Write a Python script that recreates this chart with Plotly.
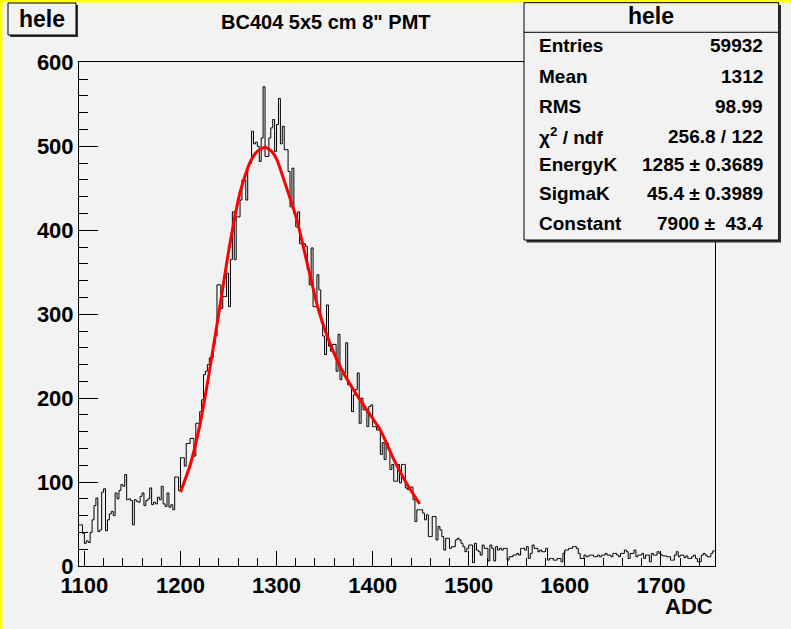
import numpy as np
import plotly.graph_objects as go

# ---------------- data ----------------
bin_start = 1094
bin_width = 2

counts_low = [49, 49, 39, 27, 30, 28, 40, 55, 72, 81, 41, 43, 88, 92, 42, 55, 62, 65, 60, 87,
              80, 90, 97, 95, 109, 79, 80, 78, 49, 79, 77, 76, 83, 87, 72, 78, 80, 93, 73, 76,
              74, 82, 79, 95, 74, 71, 87, 70, 73, 67, 106, 106, 90]
counts_rise = [129, 129, 119, 146, 146, 152, 152, 131, 170, 170, 184, 198]
counts_peak = [228, 232, 240, 248, 248, 264, 274, 335, 335, 307, 321, 321, 349, 309, 365, 422,
               365, 416, 416, 436, 460, 460, 436, 476, 480, 518, 503, 505, 500, 482, 510, 571,
               488, 488, 510, 522, 532, 494, 526, 557, 503, 524, 496, 496, 470, 428, 474, 420,
               404, 422, 384, 384, 384]
counts_tail = [381, 353, 335, 379, 309, 309, 347, 329, 295, 274,
               252, 311, 262, 256, 264, 264, 232, 276, 222, 230,
               230, 266, 216, 216, 184, 204, 210, 230, 170, 200,
               186, 186, 166, 190, 192, 166, 166, 162, 162, 133,
               147, 127, 147, 139, 115, 121, 101, 101, 121, 99,
               121, 121, 93, 91, 94, 94, 79, 53, 67, 67,
               67, 63, 55, 61, 35, 35, 59, 59, 31, 47,
               43, 35, 19, 33, 33, 21, 23, 23, 31, 33]
counts_flat = [31, 27, 23, 17, 21, 25, 25, 4, 27, 19,
               17, 13, 25, 21, 21, 6, 25, 21, 6, 23,
               19, 21, 19, 21, 21, 7, 11, 11, 13, 13,
               15, 13, 21, 21, 19, 23, 9, 15, 25, 21,
               21, 17, 19, 17, 17, 21, 7, 9, 9, 7,
               7, 9, 9, 5, 15, 19, 19, 21, 21, 23,
               23, 21, 15, 9, 9, 13, 11, 12, 13, 13,
               11, 11, 13, 11, 13, 13, 15, 13, 13, 11,
               15, 15, 13, 11, 15, 15, 19, 17, 9, 15,
               15, 19, 11, 13, 13, 15, 9, 13, 13, 5,
               15, 13, 13, 17, 15, 13, 12, 12, 11, 11,
               7, 7, 13, 17, 11, 13, 13, 10, 12, 9,
               9, 11, 13, 9, 5, 5, 13, 15, 13, 11,
               11, 15, 18]

fit_x = [1200, 1210, 1220, 1229, 1241, 1251, 1262, 1272, 1280, 1288, 1295, 1300, 1310, 1321,
         1331, 1343, 1352, 1366, 1380, 1394, 1408, 1422, 1435, 1449]
fit_y = [88, 120, 167, 224, 309, 381, 445, 480, 494, 499, 494, 485, 452, 413,
         365, 308, 276, 238, 210, 186, 162, 127, 99, 74]

x_ticks = [1100, 1200, 1300, 1400, 1500, 1600, 1700]
y_ticks = [0, 100, 200, 300, 400, 500, 600]

title_text = 'BC404 5x5 cm 8" PMT'
hist_name = "hele"
stat_labels = ["Entries", "Mean", "RMS", "\u03c7<sup>2</sup> / ndf", "EnergyK", "SigmaK", "Constant"]
stat_values = ["59932", "1312", "98.99", "256.8 / 122", "1285 \u00b1 0.3689",
               "45.4 \u00b1 0.3989", "7900 \u00b1  43.4"]

# ---------------- figure geometry ----------------
W, H = 791, 629
L, R, T, B = 79, 76, 62, 63
PW, PH = W - L - R, H - T - B
BG = "#f2f2f2"
FONT = "Liberation Sans, Arial, Helvetica, sans-serif"


def px(x):
    return (x - L) / PW


def py(y):
    return (H - B - y) / PH


counts = counts_low + counts_rise + counts_peak + counts_tail + counts_flat
edges = bin_start + bin_width * np.arange(len(counts) + 1)
step_y = counts + [counts[-1]]

fig = go.Figure()
fig.add_trace(go.Scatter(x=edges, y=step_y, mode="lines", line=dict(color="black", width=1, shape="hv"),
                         hoverinfo="skip", showlegend=False))
fig.add_trace(go.Scatter(x=fit_x, y=fit_y, mode="lines",
                         line=dict(color="#ff0000", width=3, shape="spline", smoothing=0.6),
                         hoverinfo="skip", showlegend=False))

axis_common = dict(showgrid=False, zeroline=False, showline=True, linecolor="black", linewidth=1,
                   mirror=True, ticks="inside", tickcolor="black", tickwidth=1,
                   tickfont=dict(family=FONT, size=22, color="black", weight="bold"))

fig.update_xaxes(range=[1094.4, 1756.3], tickmode="array", tickvals=x_ticks,
                 ticktext=[str(v) for v in x_ticks], ticklen=15,
                 minor=dict(ticks="inside", ticklen=8, tick0=1100, dtick=20, tickcolor="black", tickwidth=1),
                 **axis_common)
fig.update_yaxes(range=[0, 600.5], tickmode="array", tickvals=y_ticks,
                 ticktext=[str(v) for v in y_ticks], ticklen=19,
                 minor=dict(ticks="inside", ticklen=9, tick0=0, dtick=20, tickcolor="black", tickwidth=1),
                 **axis_common)

shapes = []


def rect(x0, y0, x1, y1, fill, line_color=None, lw=0):
    shapes.append(dict(type="rect", xref="paper", yref="paper",
                       x0=px(x0), x1=px(x1), y0=py(y1), y1=py(y0),
                       fillcolor=fill, layer="above",
                       line=dict(color=line_color or fill, width=lw)))


# yellow canvas border (top and left)
rect(0, 0, W, 2.5, "#ffff00")
rect(0, 0, 2.5, H, "#ffff00")
# hele name box with shadow
rect(10, 5, 78, 37, "#303030")
rect(8, 3, 76, 35, BG, "black", 1)
# stats box with shadow
rect(526.5, 5, 781, 242.5, "#303030")
rect(524, 2.7, 778.7, 240, BG, "black", 1)
shapes.append(dict(type="line", xref="paper", yref="paper", x0=px(524), x1=px(778.7),
                   y0=py(32.3), y1=py(32.3), line=dict(color="black", width=1), layer="above"))

annotations = []


def text(x, y, s, size, xanchor="center", weight="bold"):
    annotations.append(dict(x=px(x), y=py(y), xref="paper", yref="paper", text=s, showarrow=False,
                            xanchor=xanchor, yanchor="middle",
                            font=dict(family=FONT, size=size, color="black", weight=weight)))


text(42, 19, hist_name, 23)
text(326, 22, title_text, 20)
text(651, 16, hist_name, 23)
row_y = [45.7, 76, 106, 136, 164.5, 194, 224]
for lab, val, yy in zip(stat_labels, stat_values, row_y):
    text(536.7, yy, lab, 19, xanchor="left")
    text(765, yy, val, 19, xanchor="right")
text(715, 606, "ADC", 22, xanchor="right")

fig.update_layout(width=W, height=H, margin=dict(l=L, r=R, t=T, b=B, pad=0),
                  paper_bgcolor=BG, plot_bgcolor=BG, shapes=shapes, annotations=annotations,
                  showlegend=False)

fig.write_html("out.html")
